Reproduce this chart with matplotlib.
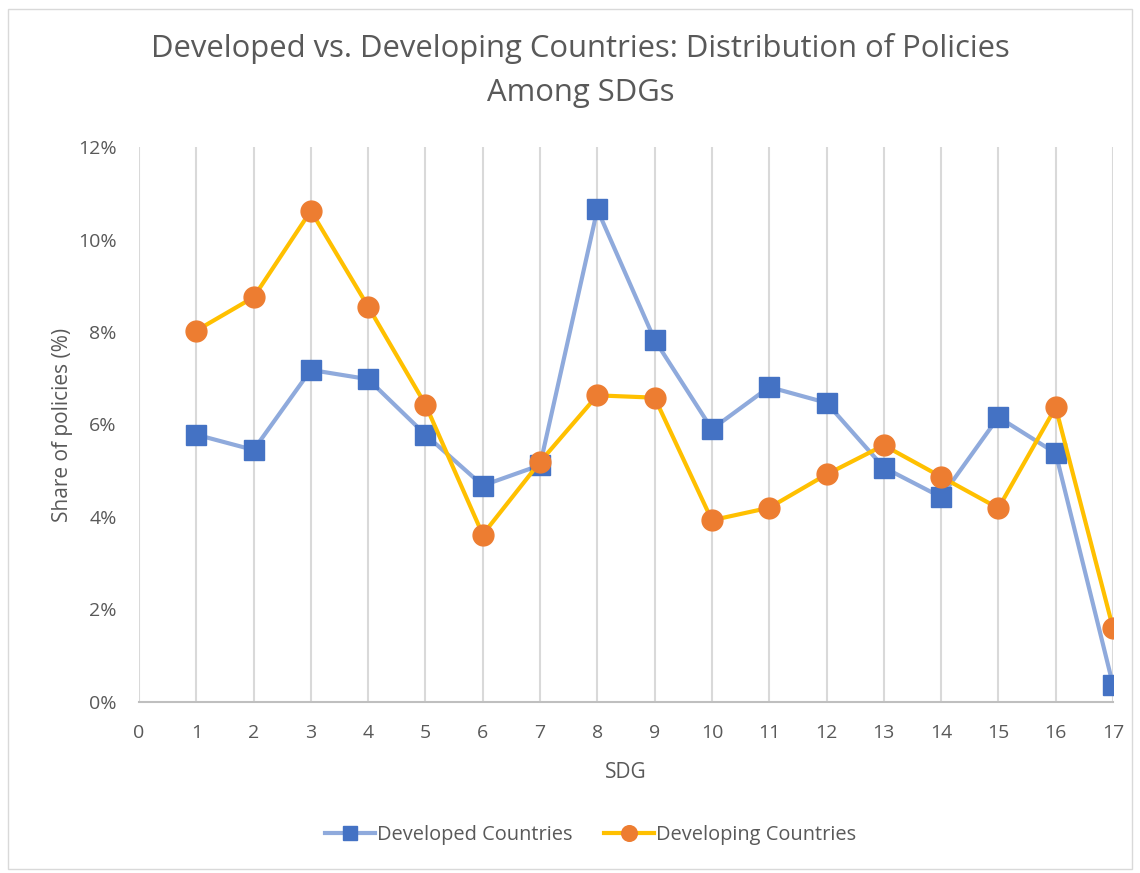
import matplotlib
matplotlib.use("Agg")
import matplotlib.pyplot as plt
from matplotlib.patches import Rectangle
from matplotlib.ticker import FuncFormatter

SDG = list(range(1, 18))
DEVELOPED = [5.78, 5.45, 7.18, 6.98, 5.78, 4.68, 5.12, 10.65, 7.83, 5.90,
             6.81, 6.47, 5.07, 4.43, 6.16, 5.38, 0.37]
DEVELOPING = [8.03, 8.75, 10.62, 8.55, 6.43, 3.62, 5.19, 6.63, 6.58, 3.93,
              4.20, 4.92, 5.55, 4.87, 4.19, 6.37, 1.60]
SERIES_NAMES = ["Developed Countries", "Developing Countries"]

TEXT = "#595959"
plt.rcParams["font.family"] = ["Open Sans", "DejaVu Sans"]

fig = plt.figure(figsize=(11.4, 8.73), dpi=100)
ax = fig.add_axes([0.1219, 0.1959, 0.9763 - 0.1219, 0.8316 - 0.1959])

ax.plot(SDG, DEVELOPED, color="#8FAADC", lw=3, marker="s", ms=14,
        mfc="#4472C4", mec="#4472C4", label=SERIES_NAMES[0], zorder=3)
ax.plot(SDG, DEVELOPING, color="#FFC000", lw=3, marker="o", ms=15,
        mfc="#ED7D31", mec="#ED7D31", label=SERIES_NAMES[1], zorder=3)

ax.set_xlim(0, 17)
ax.set_ylim(0, 12)
ax.set_xticks(range(0, 18))
ax.set_yticks(range(0, 13, 2))
ax.yaxis.set_major_formatter(FuncFormatter(lambda v, _: f"{v:.0f}%"))
ax.grid(axis="x", color="#D9D9D9", lw=1.5)
ax.set_axisbelow(True)
for side in ["top", "right", "left"]:
    ax.spines[side].set_visible(False)
ax.spines["bottom"].set_color("#BFBFBF")
ax.spines["bottom"].set_linewidth(1.5)
ax.tick_params(axis="x", length=0, labelsize=14, colors=TEXT, pad=16)
ax.tick_params(axis="y", length=0, labelsize=14, colors=TEXT, pad=16)

ax.set_xlabel("SDG", fontsize=15, color=TEXT, labelpad=14)
ax.set_ylabel("Share of policies (%)", fontsize=15, color=TEXT, labelpad=4)
fig.suptitle("Developed vs. Developing Countries: Distribution of Policies\nAmong SDGs",
             x=0.509, y=0.962, fontsize=22.3, color=TEXT, linespacing=1.6)

fig.legend(loc="center", bbox_to_anchor=(0.518, 0.043), ncol=2, frameon=False,
           fontsize=14.4, labelcolor=TEXT, handlelength=2.5, handletextpad=0.1,
           columnspacing=1.6, markerscale=0.75)

fig.patches.append(Rectangle((0.007, 0.005), 0.986, 0.985, transform=fig.transFigure,
                             fill=False, ec="#D9D9D9", lw=1))

fig.savefig("out.png", dpi=100)
